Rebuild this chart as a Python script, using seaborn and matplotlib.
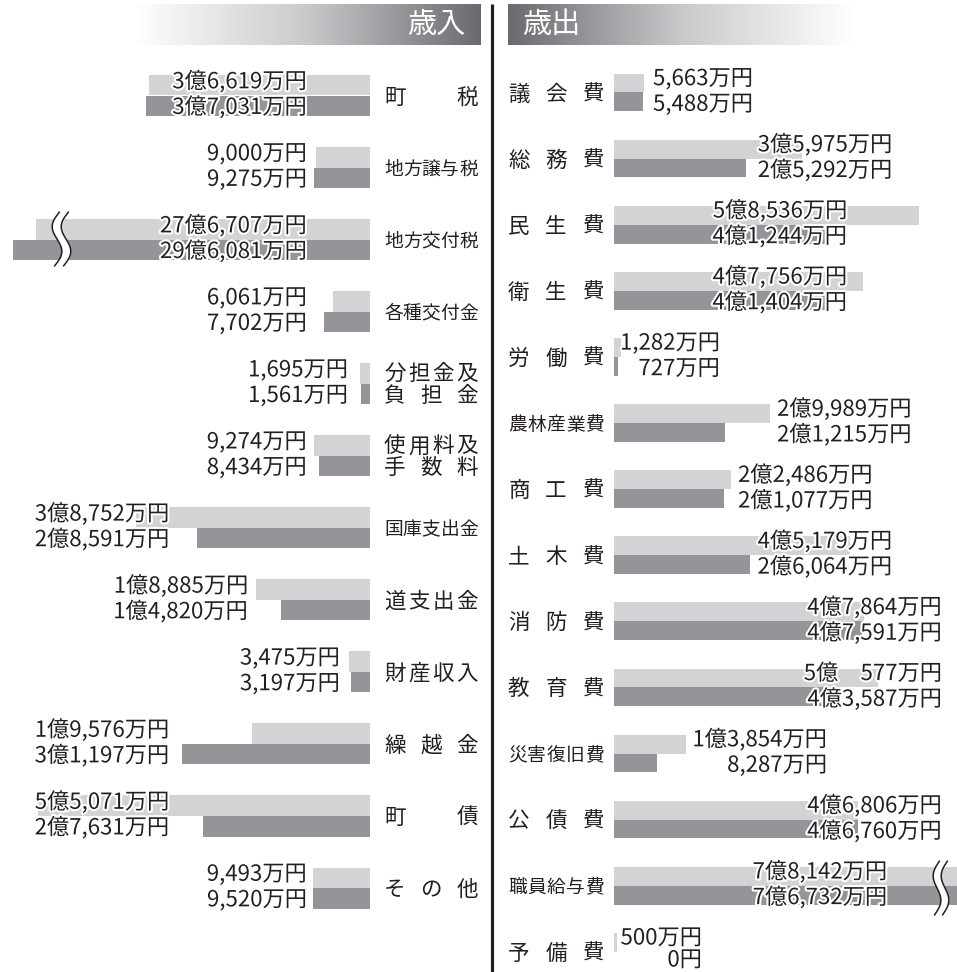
import numpy as np
import pandas as pd
import matplotlib
matplotlib.use("Agg")
import matplotlib.pyplot as plt
import matplotlib.patheffects as pe
import matplotlib.transforms as mtransforms
from matplotlib.colors import LinearSegmentedColormap
import seaborn as sns

# ---------------------------------- DATA (万円) ----------------------------------
rev_cats = ['町税', '地方譲与税', '地方交付税', '各種交付金', '分担金及負担金', '使用料及手数料',
            '国庫支出金', '道支出金', '財産収入', '繰越金', '町債', 'その他']
rev_this = [36619, 9000, 276707, 6061, 1695, 9274, 38752, 18885, 3475, 19576, 55071, 9493]
rev_last = [37031, 9275, 296081, 7702, 1561, 8434, 28591, 14820, 3197, 31197, 27631, 9520]
rev_broken = ['地方交付税']

exp_cats = ['議会費', '総務費', '民生費', '衛生費', '労働費', '農林産業費', '商工費', '土木費',
            '消防費', '教育費', '災害復旧費', '公債費', '職員給与費', '予備費']
exp_this = [5663, 35975, 58536, 47756, 1282, 29989, 22486, 45179, 47864, 50577, 13854, 46806, 78142, 500]
exp_last = [5488, 25292, 41244, 41404, 727, 21215, 21077, 26064, 47591, 43587, 8287, 46760, 76732, 0]
exp_broken = ['職員給与費']

# two-line category names
label_lines = {'分担金及負担金': ['分担金及', '負担金'], '使用料及手数料': ['使用料及', '手数料']}

# ---------------------------------- LAYOUT ----------------------------------
W, H, DPI = 957, 972, 100
LIGHT, DARK, INK = '#d1d3d4', '#939598', '#231f20'
TOP_PX = 40

REV_ROW0, REV_PITCH, REV_XMAX, REV_BREAK = 95.5, 72.05, 61300, 0.2
EXP_ROW0, EXP_PITCH, EXP_XMAX, EXP_BREAK = 92.5, 66.1, 65800, 0.86

# value label anchor (pixel x, alignment)
rev_label_pos = {'町税': (307, 'right'), '地方譲与税': (307, 'right'), '地方交付税': (307, 'right'),
                 '各種交付金': (307, 'right'), '分担金及負担金': (348, 'right'),
                 '使用料及手数料': (307, 'right'), '国庫支出金': (102, 'center'),
                 '道支出金': (248, 'right'), '財産収入': (340, 'right'), '繰越金': (102, 'center'),
                 '町債': (102, 'center'), 'その他': (307, 'right')}
exp_label_pos = {'議会費': (653, 'left'), '総務費': (825, 'center'), '民生費': (780, 'center'),
                 '衛生費': (780, 'center'), '労働費': (720, 'right'), '農林産業費': (777, 'left'),
                 '商工費': (738, 'left'), '土木費': (825, 'center'), '消防費': (942, 'right'),
                 '教育費': (942, 'right'), '災害復旧費': (827, 'right'), '公債費': (942, 'right'),
                 '職員給与費': (820, 'center'), '予備費': (702, 'right')}
VAL_FS = 16
VAL_SPREAD = 12.8   # px from row centre to each value line
VAL_SHIFT = -1.0


def yen(v):
    oku, man = divmod(v, 10000)
    if v == 0:
        return '0円'
    if oku == 0:
        return f'{man:,}万円'
    if man == 0:
        return f'{oku}億円'
    if man < 1000:
        return f'{oku}億\u3000{man}万円'
    return f'{oku}億{man:,}万円'


def long_df(cats, this, last, broken, k):
    rows = []
    for c, a, b in zip(cats, this, last):
        f = k if c in broken else 1.0
        rows.append({'cat': c, 'series': 'this', 'val': a * f})
        rows.append({'cat': c, 'series': 'last', 'val': b * f})
    return pd.DataFrame(rows)


sns.set_theme(style='white')
plt.rcParams['font.family'] = ['Noto Sans CJK JP', 'DejaVu Sans']

fig = plt.figure(figsize=(W / DPI, H / DPI), dpi=DPI)
fig.patch.set_facecolor('white')
px_x = mtransforms.Affine2D().scale(1 / W, 1) + fig.transFigure

ax_rev = fig.add_axes([0, 0, 370 / W, (H - TOP_PX) / H])
ax_exp = fig.add_axes([614 / W, 0, (W - 614) / W, (H - TOP_PX) / H])

BAR_W = 0.57
halo = [pe.withStroke(linewidth=3, foreground='white')]


def draw_panel(ax, cats, this, last, broken, k, xmax, row0, pitch, pos, lab_x0, lab_x1, invert):
    df = long_df(cats, this, last, broken, k)
    sns.barplot(data=df, y='cat', x='val', hue='series', hue_order=['this', 'last'], order=cats,
                orient='h', palette=[LIGHT, DARK], width=BAR_W, saturation=1, errorbar=None,
                linewidth=0, legend=False, ax=ax)
    ax.set_xlim((xmax, 0) if invert else (0, xmax))
    ax.set_ylim((H - row0) / pitch, (TOP_PX - row0) / pitch)
    ax.axis('off')
    tr = mtransforms.blended_transform_factory(px_x, ax.transData)

    # value labels (kept inside the picture at the bottom edge)
    for i, c in enumerate(cats):
        x, ha = pos[c]
        for v, dy in ((this[i], -VAL_SPREAD), (last[i], VAL_SPREAD)):
            py = min(row0 + i * pitch + dy + VAL_SHIFT, H - 12)
            ax.text(x, (py - row0) / pitch, yen(v), transform=tr, ha=ha, va='center',
                    fontsize=VAL_FS, color=INK, path_effects=halo, zorder=5)

    # category labels, spread across the label column
    for i, c in enumerate(cats):
        lines = label_lines.get(c, [c])
        offs = [0.0] if len(lines) == 1 else [-11.5, 10.5]
        for line, off in zip(lines, offs):
            n = len(line)
            fs = 13.5 if n >= 5 else 15.5
            em = fs * DPI / 72
            y = i + (off + 2) / pitch
            for j, ch in enumerate(line):
                if n == 1:
                    cx = (lab_x0 + lab_x1) / 2
                else:
                    cx = lab_x0 + em / 2 + j * (lab_x1 - lab_x0 - em) / (n - 1)
                ax.text(cx, y, ch, transform=tr, ha='center', va='center', fontsize=fs, color=INK)


draw_panel(ax_rev, rev_cats, rev_this, rev_last, rev_broken, REV_BREAK, REV_XMAX,
           REV_ROW0, REV_PITCH, rev_label_pos, 384, 478, invert=True)
draw_panel(ax_exp, exp_cats, exp_this, exp_last, exp_broken, EXP_BREAK, EXP_XMAX,
           EXP_ROW0, EXP_PITCH, exp_label_pos, 508, 604, invert=False)

# ---------------------------------- DECORATION ----------------------------------
deco = fig.add_axes([0, 0, 1, 1])
deco.patch.set_alpha(0)
grad = np.linspace(0, 1, 256).reshape(1, -1)
hdr_cmap = LinearSegmentedColormap.from_list('hdr', ['#ffffff', '#c8c9cb', '#6a6b6e'])
deco.imshow(grad, cmap=hdr_cmap, extent=(135, 481, 45, 4), aspect='auto')
deco.imshow(grad[:, ::-1], cmap=hdr_cmap, extent=(508, 854, 45, 4), aspect='auto')
deco.text(465, 25, '歳入', ha='right', va='center', color='white', fontsize=21)
deco.text(522, 25, '歳出', ha='left', va='center', color='white', fontsize=21)
deco.plot([492, 492], [4, H], color=INK, lw=2.3, solid_capstyle='butt')


def squiggle(xc, y0, y1, amp=6, tilt=5, gap=9):
    t = np.linspace(0, 1, 120)
    ys = y0 + (y1 - y0) * t
    xs = xc - amp * np.sin(2 * np.pi * t) + tilt * (0.5 - t)
    deco.fill_betweenx(ys, xs, xs + gap, color='white', lw=0, zorder=3)
    deco.plot(xs, ys, color=INK, lw=1.1, zorder=4)
    deco.plot(xs + gap, ys, color=INK, lw=1.1, zorder=4)


squiggle(57, 212, 266)
squiggle(937, 861, 915, amp=5, gap=8)

deco.set_xlim(0, W)
deco.set_ylim(H, 0)
deco.axis('off')

fig.savefig('out.png', dpi=DPI, facecolor='white')
